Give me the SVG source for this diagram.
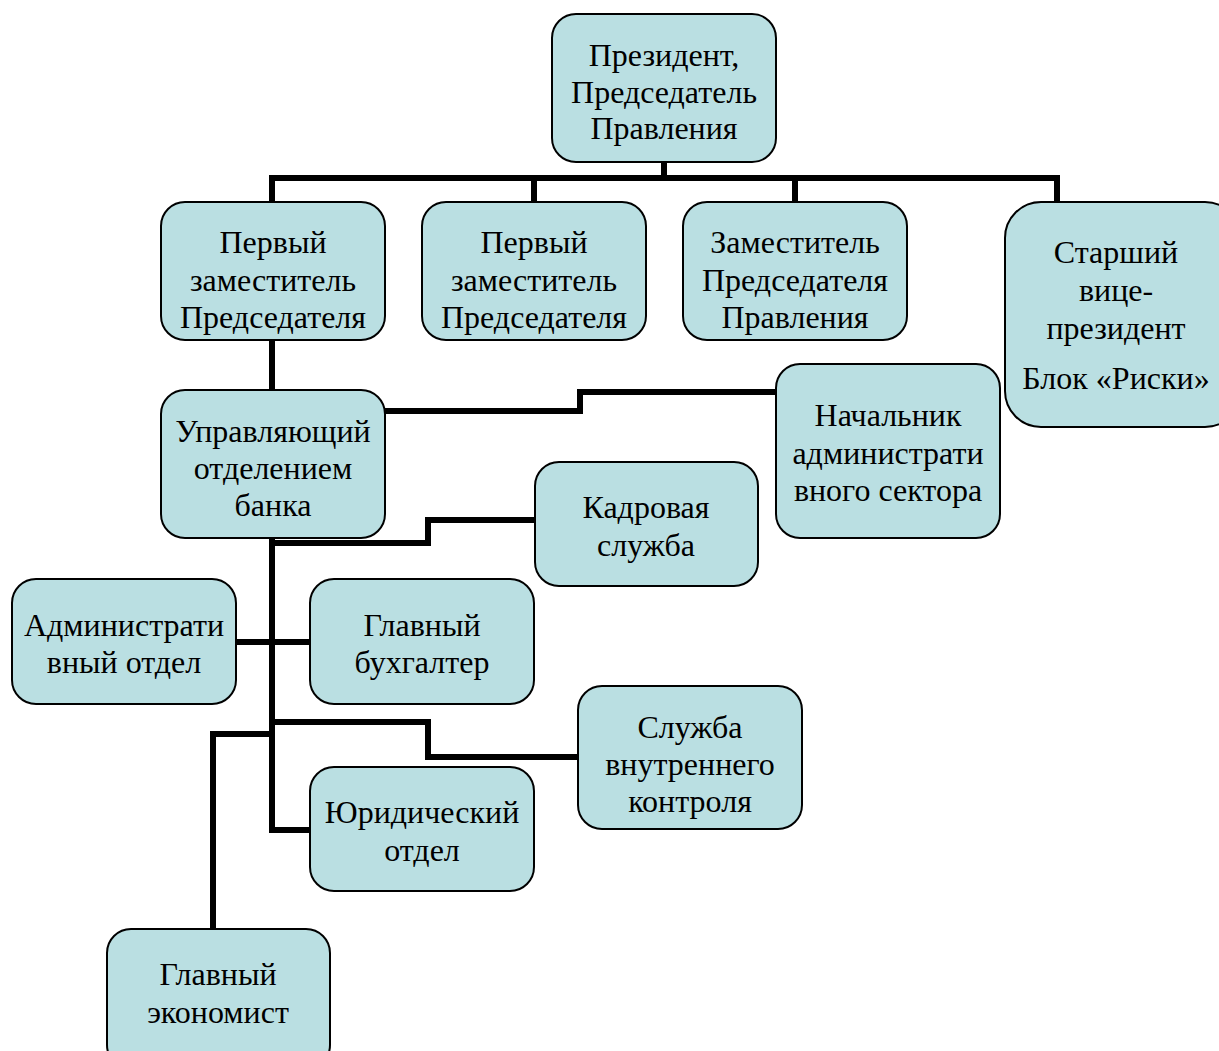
<svg xmlns="http://www.w3.org/2000/svg" width="1219" height="1051" viewBox="0 0 1219 1051">
<style>
.box{fill:#BADFE2;stroke:#000;stroke-width:2}
.t{font-family:"Liberation Serif","Times New Roman",serif;font-size:32px;fill:#000;text-anchor:middle}
.c{fill:none;stroke:#000;stroke-width:6;stroke-linejoin:miter;stroke-linecap:butt}
</style>
<rect width="1219" height="1051" fill="#fff"/>
<g id="connectors">
<path class="c" d="M664 162V178M272 178H1057M272 175V202M534 178V202M795 178V202M1057 175V202"/>
<path class="c" d="M272 340V390"/>
<path class="c" d="M385 411H580V392H776"/>
<path class="c" d="M272 538V830H310"/>
<path class="c" d="M272 543H428V520H535"/>
<path class="c" d="M236 642H310"/>
<path class="c" d="M272 722H428V757H578"/>
<path class="c" d="M272 734H213V929"/>
</g>
<g id="n1"><rect class="box" x="552" y="14" width="224" height="148" rx="24"/><text class="t" x="664" y="66">Президент,</text><text class="t" x="664" y="103">Председатель</text><text class="t" x="664" y="139">Правления</text></g>
<g id="n2"><rect class="box" x="161" y="202" width="224" height="138" rx="24"/><text class="t" x="273" y="253">Первый</text><text class="t" x="273" y="291">заместитель</text><text class="t" x="273" y="328">Председателя</text></g>
<g id="n3"><rect class="box" x="422" y="202" width="224" height="138" rx="24"/><text class="t" x="534" y="253">Первый</text><text class="t" x="534" y="291">заместитель</text><text class="t" x="534" y="328">Председателя</text></g>
<g id="n4"><rect class="box" x="683" y="202" width="224" height="138" rx="24"/><text class="t" x="795" y="253">Заместитель</text><text class="t" x="795" y="291">Председателя</text><text class="t" x="795" y="328">Правления</text></g>
<g id="n5"><rect class="box" x="1005" y="202" width="236" height="225" rx="36"/><text class="t" x="1116" y="263">Старший</text><text class="t" x="1116" y="301">вице-</text><text class="t" x="1116" y="339">президент</text><text class="t" x="1116" y="389">Блок «Риски»</text></g>
<g id="n6"><rect class="box" x="161" y="390" width="224" height="148" rx="24"/><text class="t" x="273" y="442">Управляющий</text><text class="t" x="273" y="479">отделением</text><text class="t" x="273" y="516">банка</text></g>
<g id="n7"><rect class="box" x="776" y="364" width="224" height="174" rx="24"/><text class="t" x="888" y="426">Начальник</text><text class="t" x="888" y="464">администрати</text><text class="t" x="888" y="501">вного сектора</text></g>
<g id="n8"><rect class="box" x="535" y="462" width="223" height="124" rx="24"/><text class="t" x="646" y="518">Кадровая</text><text class="t" x="646" y="556">служба</text></g>
<g id="n9"><rect class="box" x="12" y="579" width="224" height="125" rx="24"/><text class="t" x="124" y="636">Администрати</text><text class="t" x="124" y="673">вный отдел</text></g>
<g id="n10"><rect class="box" x="310" y="579" width="224" height="125" rx="24"/><text class="t" x="422" y="636">Главный</text><text class="t" x="422" y="673">бухгалтер</text></g>
<g id="n11"><rect class="box" x="578" y="686" width="224" height="143" rx="24"/><text class="t" x="690" y="738">Служба</text><text class="t" x="690" y="775">внутреннего</text><text class="t" x="690" y="812">контроля</text></g>
<g id="n12"><rect class="box" x="310" y="767" width="224" height="124" rx="24"/><text class="t" x="422" y="823">Юридический</text><text class="t" x="422" y="861">отдел</text></g>
<g id="n13"><rect class="box" x="107" y="929" width="223" height="140" rx="24"/><text class="t" x="218" y="985">Главный</text><text class="t" x="218" y="1023">экономист</text></g>
</svg>
